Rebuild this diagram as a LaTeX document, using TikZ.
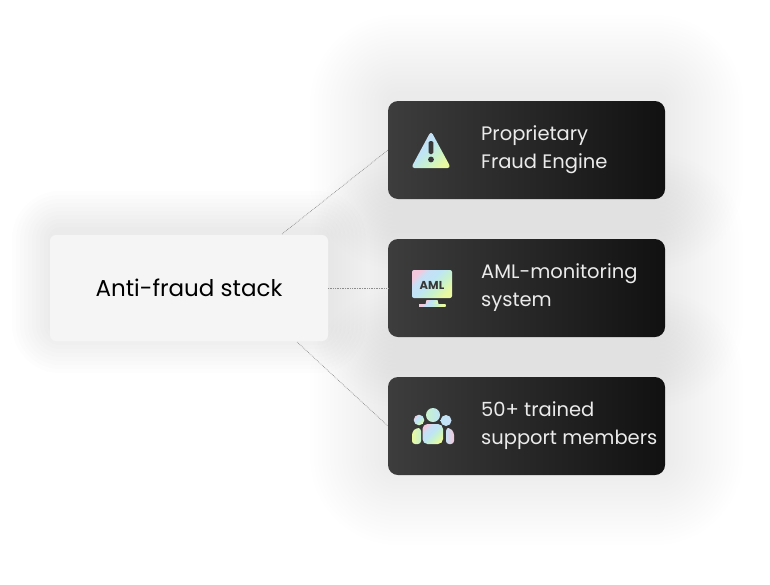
\documentclass[tikz,border=0pt]{standalone}
\usepackage{fontspec}
\setmainfont{Poppins}
\usetikzlibrary{positioning,backgrounds,calc}

\definecolor{stackgrey}{HTML}{F5F5F5}
\definecolor{cardleft}{HTML}{3D3D3D}
\definecolor{cardright}{HTML}{111111}
\definecolor{icondark}{HTML}{383838}
\definecolor{pastellime}{HTML}{EAFAA0}
\definecolor{pastelmint}{HTML}{C8F2CC}
\definecolor{pastelblue}{HTML}{BEE4F6}
\definecolor{pastelsky}{HTML}{C8DFF4}
\definecolor{pastelpink}{HTML}{F4C8DC}

\pgfdeclarehorizontalshading{pastel}{100bp}{
  color(0bp)=(pastellime); color(25bp)=(pastellime); color(40bp)=(pastelmint);
  color(55bp)=(pastelblue); color(68bp)=(pastelsky); color(76bp)=(pastelpink); color(100bp)=(pastelpink)}

\tikzset{
  cardbox/.style={minimum width=277pt,minimum height=98pt,inner sep=0pt,outer sep=0pt,
    rounded corners=10pt,left color=cardleft,right color=cardright},
  stackbox/.style={minimum width=278pt,minimum height=106pt,inner sep=0pt,outer sep=0pt,
    rounded corners=6pt,fill=stackgrey,text=black,font=\fontsize{23}{28}\selectfont},
  cardtext/.style={anchor=west,align=left,inner sep=0pt,text=white!92!black,
    font=\fontsize{19.5}{28}\selectfont},
  link/.style={densely dotted,draw=black!45,line width=.7pt},
  pastelfill/.style={shading=pastel,shading angle=135},
}

% soft shadow from stacked translucent boxes
\newcommand{\softglow}[4]{%
  \foreach \r in {2,6,...,#2}
    \fill[black,opacity=#3,rounded corners=\r pt+10pt]
      ($(#1.north west)+(-\r pt,\r pt+#4 pt)$) rectangle ($(#1.south east)+(\r pt,-\r pt+#4 pt)$);
}

\begin{document}
\begin{tikzpicture}[x=1pt,y=-1pt]
\useasboundingbox (0,0) rectangle (770,584);

\node[cardbox] (aml) at (526.5,288) {};
\node[cardbox,above=40pt of aml] (fraud) {};
\node[cardbox,below=40pt of aml] (support) {};
\node[stackbox] (stack) at (189,288) {Anti-fraud stack};

\begin{scope}[on background layer]
  \softglow{fraud}{78}{0.0055}{8}
  \softglow{aml}{78}{0.0055}{8}
  \softglow{support}{78}{0.0055}{8}
  \softglow{stack}{38}{0.009}{6}
\end{scope}

\node[cardtext] (fraudtext) at ([xshift=93pt]fraud.west) {Proprietary\\Fraud Engine};
\node[cardtext] (amltext) at ([xshift=93pt]aml.west) {AML-monitoring\\system};
\node[cardtext] (supporttext) at ([xshift=93pt]support.west) {50+ trained\\support members};

\coordinate (linkup) at (282,234);
\coordinate (linkdown) at (297,342);
\draw[link] (linkup) -- (fraud.west);
\draw[link] (stack.east) -- (aml.west);
\draw[link] (linkdown) -- (support.west);

% warning icon
\shade[pastelfill,rounded corners=3.5pt] (431,131) -- (451,168) -- (411,168) -- cycle;
\fill[icondark,rounded corners=1.5pt] (428.7,141) rectangle (433.3,154);
\fill[icondark] (431,159.5) circle (2.9);

% monitor icon
\shade[pastelfill,rounded corners=2pt] (412,270) rectangle (452,298);
\node[inner sep=0pt,text=icondark,font=\fontsize{11.5}{12}\selectfont\bfseries] (amlicon) at (432,285) {AML};
\shade[pastelfill] (426.5,300) -- (437.5,300) -- (438.5,304) -- (425.5,304) -- cycle;
\shade[pastelfill] (419,304) rectangle (445.5,306);

% people icon
\shade[pastelfill] (419,420) circle (5.3);
\shade[left color=pastelblue,right color=pastelsky] (446,420.5) circle (5.5);
\shade[left color=pastelmint,right color=pastelblue] (433,415) circle (7);
\shade[left color=pastellime,right color=pastelmint,rounded corners=3pt] (412,444) -- (412,432) -- (416,428) -- (421,428) -- (421,444) -- cycle;
\shade[left color=pastelsky,right color=pastelpink,rounded corners=3pt] (446,444) -- (446,428) -- (450,428) -- (454,432) -- (454,444) -- cycle;
\shade[pastelfill,rounded corners=5pt] (422.5,444) -- (422.5,424) -- (443,424) -- (443,444) -- cycle;
\end{tikzpicture}
\end{document}
